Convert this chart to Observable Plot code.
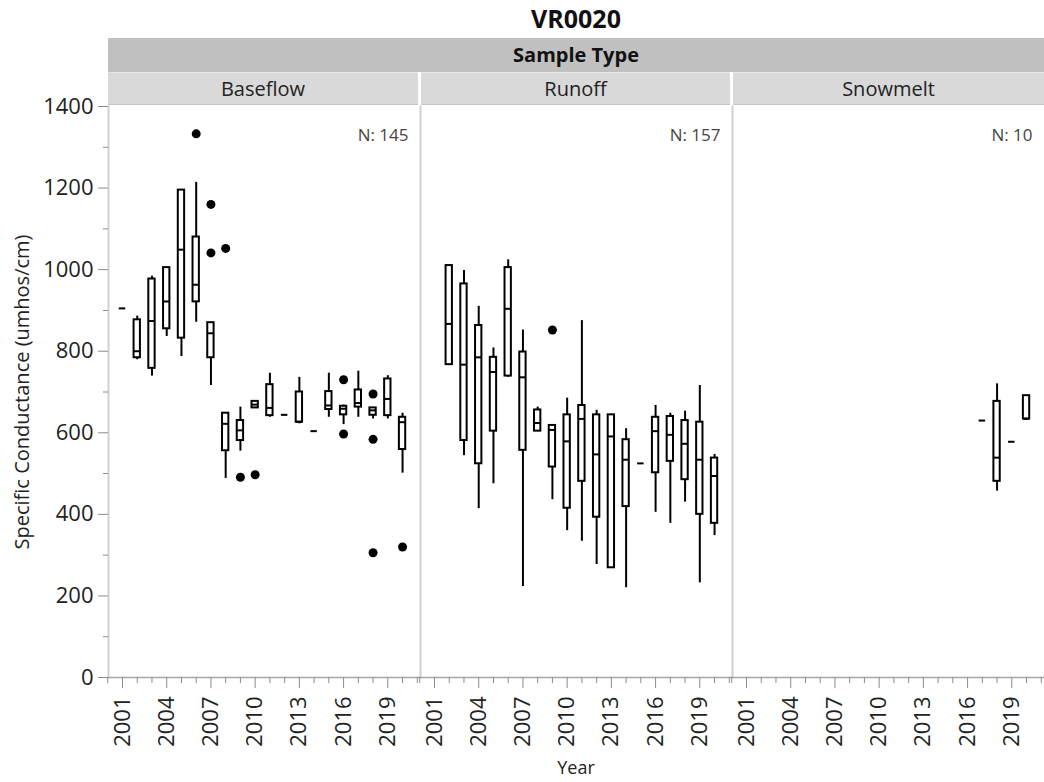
<!DOCTYPE html>
<html>
<head>
<meta charset="utf-8">
<script src="https://cdn.jsdelivr.net/npm/d3@7"></script>
<script src="https://cdn.jsdelivr.net/npm/@observablehq/plot@0.6"></script>
<style>
  body { margin: 0; background: white; }
  #wrap { position: relative; width: 1044px; height: 782px; overflow: hidden; font-family: "Open Sans", "Noto Sans", sans-serif; color: #222; }
  .title { position: absolute; top: 0; left: 108px; width: 936px; height: 38px; line-height: 36px; text-align: center; font-weight: bold; font-size: 25px; color: #111; }
  .band { position: absolute; top: 38px; left: 108px; width: 936px; height: 34px; line-height: 34px; background: #c0c0c0; text-align: center; font-weight: bold; font-size: 20px; color: #111; }
  .sub { position: absolute; top: 72px; height: 33px; line-height: 32px; background: #d9d9d9; text-align: center; font-size: 20px; color: #222; box-sizing: border-box; border-top: 1px solid #e8e8e8; border-bottom: 1px solid #c4c4c4; }
  #chart { position: absolute; top: 104px; left: 0; }
</style>
</head>
<body>
<div id="wrap">
  <div class="title">VR0020</div>
  <div class="band">Sample Type</div>
  <div id="chart"></div>
</div>
<script>
// ---- data ----
const chartTitle = "VR0020";
const groupTitle = "Sample Type";
const sampleTypes = ["Baseflow", "Runoff", "Snowmelt"];
const sampleCounts = [145, 157, 10];
const yLabel = "Specific Conductance (umhos/cm)";
const xLabel = "Year";
const yMajorTicks = [0, 200, 400, 600, 800, 1000, 1200, 1400];
const yMinorTicks = [100, 300, 500, 700, 900, 1100, 1300];
const xMajorTicks = [2001, 2004, 2007, 2010, 2013, 2016, 2019];
const xMinorTicks = [2000, 2002, 2003, 2005, 2006, 2008, 2009, 2011, 2012, 2014, 2015, 2017, 2018, 2020, 2021];

// [year, min whisker, q1, median, q3, max whisker]
const baseflowBoxes = [
  [2002, 779, 784, 800, 877, 886],
  [2003, 739, 758, 874, 977, 984],
  [2004, 836, 855, 922, 1005, 1005],
  [2005, 787, 832, 1049, 1195, 1195],
  [2006, 871, 921, 963, 1080, 1214],
  [2007, 716, 784, 844, 870, 870],
  [2008, 488, 556, 622, 648, 648],
  [2009, 555, 581, 606, 630, 663],
  [2010, 661, 661, 669, 677, 677],
  [2011, 638, 642, 661, 718, 746],
  [2013, 622, 626, 627, 700, 736],
  [2015, 638, 657, 667, 701, 746],
  [2016, 620, 644, 659, 665, 668],
  [2017, 638, 663, 673, 705, 751],
  [2018, 634, 643, 655, 661, 661],
  [2019, 634, 642, 683, 732, 740],
  [2020, 501, 559, 626, 638, 648]
];
const runoffBoxes = [
  [2002, 767, 767, 867, 1010, 1010],
  [2003, 544, 581, 767, 965, 998],
  [2004, 414, 524, 785, 863, 910],
  [2005, 475, 604, 749, 785, 808],
  [2006, 736, 739, 904, 1005, 1024],
  [2007, 223, 557, 736, 798, 852],
  [2008, 604, 604, 624, 656, 663],
  [2009, 436, 516, 607, 618, 618],
  [2010, 360, 415, 579, 644, 685],
  [2011, 334, 481, 634, 667, 875],
  [2012, 277, 393, 547, 644, 655],
  [2013, 269, 269, 591, 644, 644],
  [2014, 220, 419, 534, 583, 610],
  [2016, 405, 502, 604, 638, 667],
  [2017, 378, 530, 595, 640, 648],
  [2018, 430, 485, 573, 630, 653],
  [2019, 232, 400, 534, 626, 716],
  [2020, 348, 378, 494, 538, 547]
];
const snowmeltBoxes = [
  [2018, 457, 481, 539, 677, 720],
  [2020, 634, 634, 634, 691, 691]
];
// single observations, drawn as short dashes: [year, value]
const baseflowSingles = [[2001, 905], [2012, 644], [2014, 604]];
const runoffSingles = [[2015, 525]];
const snowmeltSingles = [[2017, 630], [2019, 578]];
// outliers: [year, value]
const baseflowOutliers = [[2006, 1333], [2007, 1160], [2007, 1041], [2008, 1052], [2009, 491], [2010, 497],
  [2016, 730], [2016, 597], [2018, 695], [2018, 584], [2018, 306], [2020, 320]];
const runoffOutliers = [[2009, 852]];
const snowmeltOutliers = [];

// ---- build tables ----
const boxRows = (type, arr) => arr.map(([year, min, q1, med, q3, max]) => ({type, year, min, q1, med, q3, max}));
const ptRows = (type, arr) => arr.map(([year, value]) => ({type, year, value}));
const boxes = [...boxRows("Baseflow", baseflowBoxes), ...boxRows("Runoff", runoffBoxes), ...boxRows("Snowmelt", snowmeltBoxes)];
const singles = [...ptRows("Baseflow", baseflowSingles), ...ptRows("Runoff", runoffSingles), ...ptRows("Snowmelt", snowmeltSingles)];
const outliers = [...ptRows("Baseflow", baseflowOutliers), ...ptRows("Runoff", runoffOutliers), ...ptRows("Snowmelt", snowmeltOutliers)];
const counts = sampleTypes.map((type, i) => ({type, n: sampleCounts[i]}));

const HALF = 0.215;
const tickColor = "#8c8c8c";
const textColor = "#222";

const plot = Plot.plot({
  width: 1044,
  height: 678,
  marginLeft: 108,
  marginRight: 0,
  marginTop: 2,
  marginBottom: 105,
  style: {fontFamily: '"Open Sans", "Noto Sans", sans-serif', fontSize: "22px", color: textColor, background: "white", overflow: "visible"},
  fx: {domain: sampleTypes, paddingInner: 0.002, paddingOuter: 0, axis: null, label: null},
  x: {domain: [2000.05, 2021.15], axis: null},
  y: {domain: [0, 1400], axis: null},
  marks: [
    Plot.frame({anchor: "left", stroke: "#d0d0d0", strokeWidth: 2}),
    Plot.frame({anchor: "bottom", stroke: "#a6a6a6", strokeWidth: 1.5}),
    Plot.axisY({ticks: yMinorTicks, tickSize: 5, text: null, label: null, stroke: tickColor}),
    Plot.axisY({ticks: yMajorTicks, tickSize: 10, tickPadding: 5, label: null, stroke: tickColor, fill: textColor, tickFormat: d => String(d)}),
    Plot.axisX({ticks: xMinorTicks, tickSize: 6, text: null, label: null, stroke: tickColor}),
    Plot.axisX({ticks: xMajorTicks, tickSize: 11, tickPadding: 8, tickRotate: -90, label: null, stroke: tickColor, fill: textColor, tickFormat: d => String(d)}),
    // whiskers
    Plot.ruleX(boxes, {fx: "type", x: "year", y1: "min", y2: "max", stroke: "black", strokeWidth: 2}),
    // boxes
    Plot.rect(boxes, {fx: "type", x1: d => d.year - HALF, x2: d => d.year + HALF, y1: "q1", y2: "q3", fill: "white", stroke: "black", strokeWidth: 2}),
    // medians
    Plot.ruleY(boxes, {fx: "type", y: "med", x1: d => d.year - HALF, x2: d => d.year + HALF, stroke: "black", strokeWidth: 2}),
    // single values
    Plot.ruleY(singles, {fx: "type", y: "value", x1: d => d.year - 0.22, x2: d => d.year + 0.22, stroke: "black", strokeWidth: 2}),
    // outliers
    Plot.dot(outliers, {fx: "type", x: "year", y: "value", r: 4.5, fill: "black", stroke: "none"}),
    // N counts
    Plot.text(counts, {fx: "type", text: d => "N: " + d.n, frameAnchor: "top-right", dx: -11, dy: 22, fontSize: 17, fill: "#444"}),
    // axis titles
    Plot.text([{type: "Baseflow", t: yLabel}], {fx: "type", text: "t", frameAnchor: "left", textAnchor: "middle", rotate: -90, dx: -86, fontSize: 20, fill: textColor}),
    Plot.text([{type: "Runoff", t: xLabel}], {fx: "type", text: "t", frameAnchor: "bottom", dy: 96, fontSize: 18, fill: textColor})
  ]
});

document.getElementById("chart").appendChild(plot);

// facet headers aligned with the facet scale
const fx = plot.scale("fx");
const wrap = document.getElementById("wrap");
sampleTypes.forEach((t, i) => {
  const d = document.createElement("div");
  d.className = "sub";
  const left = fx.apply(t) + (i > 0 ? 1 : 0);
  const right = fx.apply(t) + fx.step - (i < sampleTypes.length - 1 ? 2 : 0);
  d.style.left = left + "px";
  d.style.width = Math.min(right, 1044) - left + "px";
  d.textContent = t;
  wrap.appendChild(d);
});
</script>
</body>
</html>
